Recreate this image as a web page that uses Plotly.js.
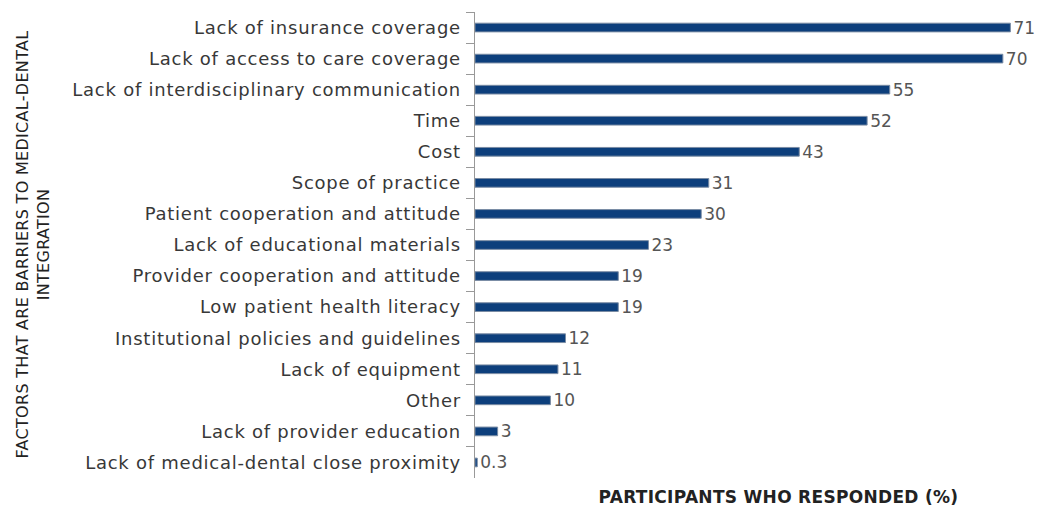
<!DOCTYPE html>
<html>
<head>
<meta charset="utf-8">
<script src="https://cdn.plot.ly/plotly-3.0.1.min.js"></script>
<style>
html,body{margin:0;padding:0;background:#fff;}
#chart{width:1040px;height:508px;}
#chart .ytick text{letter-spacing:0.75px;}
#chart .annotation-text{letter-spacing:0.3px;}
</style>
</head>
<body>
<div id="chart"></div>
<script>
const categories = [
  "Lack of insurance coverage",
  "Lack of access to care coverage",
  "Lack of interdisciplinary communication",
  "Time",
  "Cost",
  "Scope of practice",
  "Patient cooperation and attitude",
  "Lack of educational materials",
  "Provider cooperation and attitude",
  "Low patient health literacy",
  "Institutional policies and guidelines",
  "Lack of equipment",
  "Other",
  "Lack of provider education",
  "Lack of medical-dental close proximity"
];
const values = [71, 70, 55, 52, 43, 31, 30, 23, 19, 19, 12, 11, 10, 3, 0.3];
const valueLabels = ["71", "70", "55", "52", "43", "31", "30", "23", "19", "19", "12", "11", "10", "3", "0.3"];
const yTitle = "FACTORS THAT ARE BARRIERS TO MEDICAL-DENTAL<br>INTEGRATION";
const xTitle = "PARTICIPANTS WHO RESPONDED (%)";

const FONT = 'DejaVu Sans, sans-serif';

const trace = {
  type: 'bar',
  orientation: 'h',
  y: categories,
  x: values,
  text: valueLabels,
  textposition: 'outside',
  constraintext: 'none',
  cliponaxis: false,
  textfont: {family: FONT, size: 17, color: '#555'},
  marker: {color: '#0d3f7c', line: {color: '#7a8ca4', width: 1}},
  width: 0.28,
  hoverinfo: 'none'
};

const layout = {
  width: 1040,
  height: 508,
  margin: {l: 475, r: 10, t: 12, b: 30},
  paper_bgcolor: '#fff',
  plot_bgcolor: '#fff',
  showlegend: false,
  font: {family: FONT, color: '#333'},
  xaxis: {
    range: [0, 73.6],
    showgrid: false,
    zeroline: false,
    showticklabels: false,
    ticks: '',
    showline: false,
    fixedrange: true
  },
  yaxis: {
    autorange: 'reversed',
    type: 'category',
    showgrid: false,
    zeroline: false,
    showline: true,
    linecolor: '#999',
    linewidth: 1.5,
    ticks: 'outside',
    tickson: 'boundaries',
    ticklen: 8,
    tickcolor: '#999',
    tickwidth: 1,
    ticklabelstandoff: 9,
    tickfont: {family: FONT, size: 18, color: '#383838'},
    fixedrange: true
  },
  annotations: [
    {
      text: yTitle,
      xref: 'paper', yref: 'paper',
      x: (33 - 475) / 555, y: 0.5,
      xanchor: 'center', yanchor: 'middle',
      textangle: -90,
      showarrow: false,
      font: {family: FONT, size: 16, color: '#222'}
    },
    {
      text: xTitle,
      xref: 'paper', yref: 'paper',
      x: (778 - 475) / 555, y: -(497 - 478) / 466,
      xanchor: 'center', yanchor: 'middle',
      showarrow: false,
      font: {family: FONT, size: 17, color: '#222', weight: 'bold'}
    }
  ]
};

Plotly.newPlot('chart', [trace], layout, {displayModeBar: false, staticPlot: true});
</script>
</body>
</html>
